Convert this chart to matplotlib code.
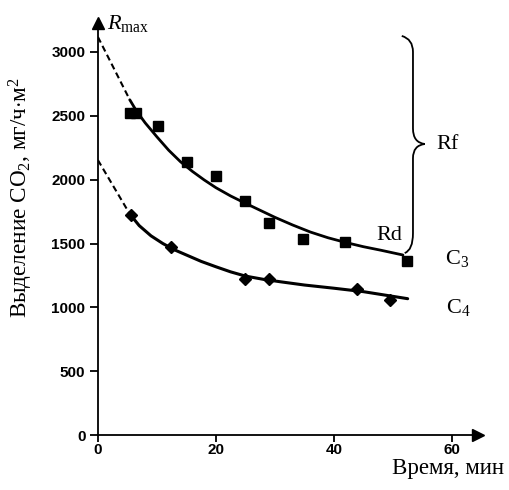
import matplotlib.pyplot as plt
from matplotlib.path import Path
from matplotlib.patches import PathPatch

plt.rcParams['font.family'] = ['Liberation Serif', 'DejaVu Serif']
plt.rcParams['mathtext.fontset'] = 'custom'
plt.rcParams['mathtext.rm'] = 'Liberation Serif'
plt.rcParams['mathtext.it'] = 'Liberation Serif:italic'

# C3 - измеренные точки
c3_t = [5.4, 6.4, 10.2, 15.1, 20.0, 24.9, 29.0, 34.7, 41.9, 52.4]
c3_r = [2520, 2520, 2420, 2140, 2030, 1830, 1660, 1535, 1510, 1365]
# C3 - сглаженная кривая
c3_fit_t = [5.4, 6.5, 8, 10, 12, 14, 16, 18, 20, 22.5, 25, 27.5, 30, 33, 36, 39, 42, 45, 48, 51.7]
c3_fit_r = [2625, 2540, 2445, 2335, 2230, 2140, 2065, 1998, 1937, 1872, 1815, 1760, 1705,
            1645, 1590, 1545, 1508, 1475, 1447, 1410]
c3_ext_t = [0, 5.4]
c3_ext_r = [3117, 2625]

# C4
c4_t = [5.6, 12.4, 24.9, 29.0, 43.9, 49.5]
c4_r = [1723, 1472, 1222, 1222, 1143, 1057]
c4_fit_t = [5.4, 7, 9, 11, 13, 15, 17.5, 20, 22.5, 25, 28, 31, 35, 40, 45, 52.5]
c4_fit_r = [1731, 1640, 1560, 1500, 1450, 1410, 1360, 1318, 1278, 1245, 1220, 1200,
            1175, 1150, 1123, 1068]
c4_ext_t = [0, 5.4]
c4_ext_r = [2153, 1731]

x_ticks = [0, 20, 40, 60]
y_ticks = [0, 500, 1000, 1500, 2000, 2500, 3000]

fig = plt.figure(figsize=(5.1, 4.9), dpi=100)
ax = fig.add_axes([0.192, 0.112, 0.745, 0.841])
ax.set_xlim(0, 64.4)
ax.set_ylim(0, 3226)

ax.plot(c3_ext_t, c3_ext_r, 'k--', lw=1.5, dashes=(3, 1.8))
ax.plot(c3_fit_t, c3_fit_r, 'k-', lw=2.0, solid_capstyle='round')
ax.plot(c3_t, c3_r, 'ks', ms=7, ls='none')

ax.plot(c4_ext_t, c4_ext_r, 'k--', lw=1.5, dashes=(3, 1.8))
ax.plot(c4_fit_t, c4_fit_r, 'k-', lw=2.2, solid_capstyle='round')
ax.plot(c4_t, c4_r, 'kD', ms=6, ls='none')

for s in ['top', 'right']:
    ax.spines[s].set_visible(False)
for s in ['left', 'bottom']:
    ax.spines[s].set_linewidth(1.3)
ax.plot(0, 1, '^k', ms=8, transform=ax.transAxes, clip_on=False)
ax.plot(1, 0, '>k', ms=8, transform=ax.transAxes, clip_on=False)

ax.set_xticks(x_ticks)
ax.set_yticks(y_ticks)
ax.tick_params(axis='y', direction='out', length=6, width=1.3, pad=3)
ax.tick_params(axis='x', direction='out', length=5, width=1.3, pad=1)
for lab in ax.get_xticklabels() + ax.get_yticklabels():
    lab.set_family('Liberation Sans')
    lab.set_fontweight('bold')
    lab.set_fontsize(11)

# фигурная скобка Rf
verts = [(51.5, 3125), (53.4, 3100), (53.4, 3000),
         (53.4, 2400),
         (53.4, 2290), (55.4, 2279),
         (53.4, 2268), (53.4, 2169),
         (53.4, 1580),
         (53.4, 1450), (52.0, 1425)]
codes = [Path.MOVETO, Path.CURVE3, Path.CURVE3,
         Path.LINETO,
         Path.CURVE3, Path.CURVE3,
         Path.CURVE3, Path.CURVE3,
         Path.LINETO,
         Path.CURVE3, Path.CURVE3]
ax.add_patch(PathPatch(Path(verts, codes), fill=False, lw=1.3, color='k', clip_on=False))

ax.text(57.4, 2279, 'Rf', fontsize=16, va='center')
ax.text(47.2, 1560, 'Rd', fontsize=16, va='center')
ax.text(58.8, 1380, 'C$_3$', fontsize=16, va='center')
ax.text(59.0, 1000, 'C$_4$', fontsize=16, va='center')
ax.text(1.5, 3226, r'$R_{\mathrm{max}}$', fontsize=16, va='center')

fig.text(0.768, 0.033, 'Время, мин', fontsize=16.5, va='baseline')
fig.text(0.041, 0.596, 'Выделение CO$_2$, мг/ч$\\cdot$м$^2$', fontsize=16.7,
         rotation=90, va='center', ha='center')

fig.savefig('out.png', dpi=100)
